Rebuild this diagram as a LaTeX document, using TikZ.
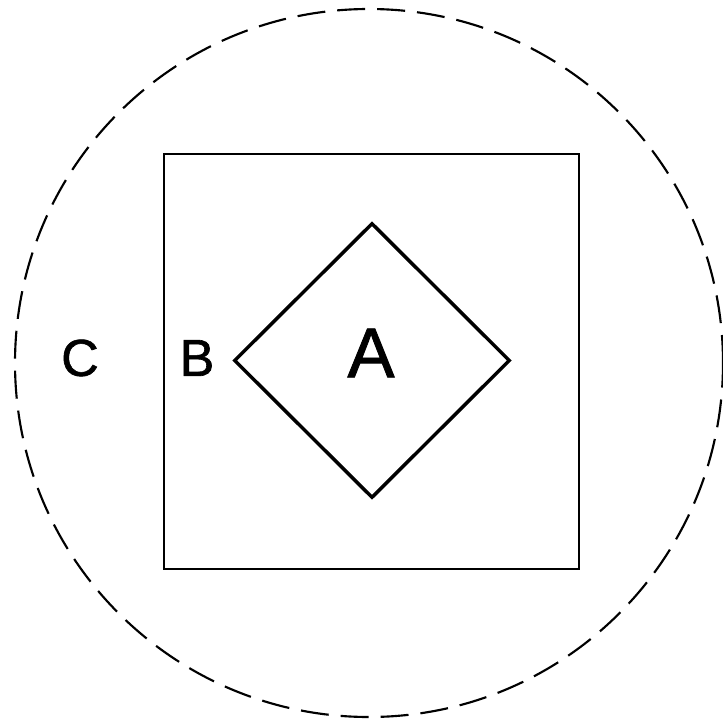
\documentclass[tikz,border=0pt]{standalone}
\usepackage{fontspec}
\setmainfont{Liberation Sans}
\newfontfamily\labelfont[FakeBold=1.2]{Liberation Sans}
\usetikzlibrary{shapes.geometric}
\begin{document}
\begin{tikzpicture}[x=0.75pt,y=-0.75pt,
  zonecircle/.style={draw, circle, line width=1.6pt, dash pattern=on 21pt off 9pt, minimum size=708*0.75pt, inner sep=0pt},
  zonesquare/.style={draw, rectangle, line width=1.6pt, minimum size=415*0.75pt, inner sep=0pt},
  zonediamond/.style={draw, diamond, line width=2.6pt, minimum width=276*0.75pt, minimum height=275*0.75pt, inner sep=0pt},
  smalllabel/.style={font=\labelfont\fontsize{39}{39}\selectfont, inner sep=0pt},
  biglabel/.style={font=\labelfont\fontsize{53}{53}\selectfont, inner sep=0pt}]
\useasboundingbox (0,0) rectangle (723,720);
\node[zonecircle] (C) at (369,363) {};
\node[zonesquare] (B) at (371.5,361.5) {};
\node[zonediamond] (A) at (372,360.5) {};
\node[biglabel] (la) at (371,353) {A};
\node[smalllabel] (lb) at (197,358) {B};
\node[smalllabel] (lc) at (80,358) {C};
\end{tikzpicture}
\end{document}
